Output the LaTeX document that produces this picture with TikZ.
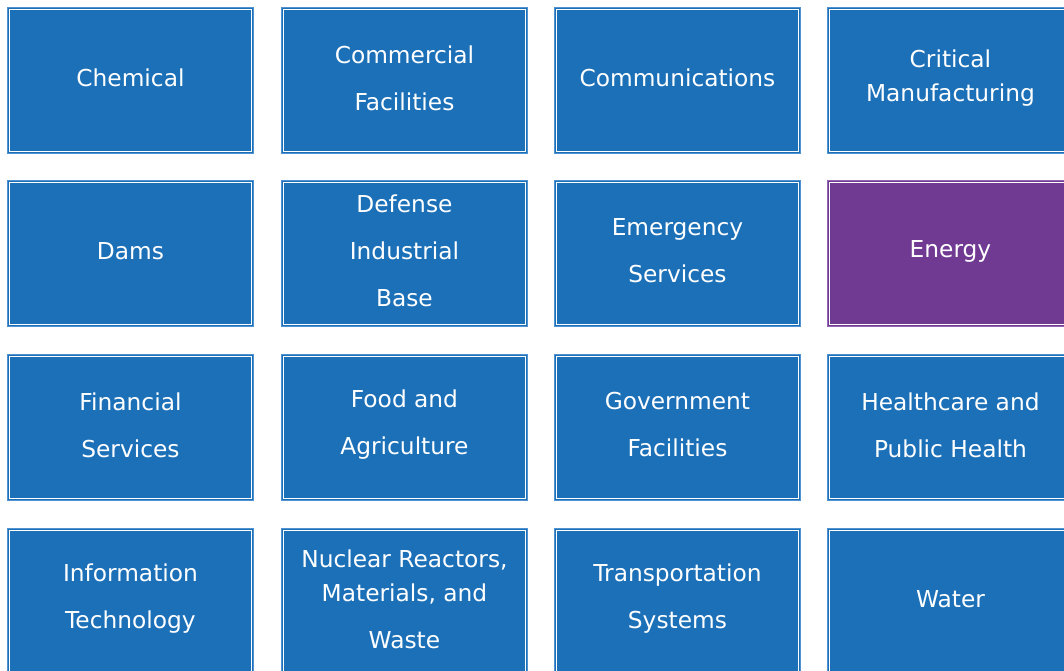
\documentclass[tikz,border=0pt]{standalone}
\usepackage{fontspec}
\setmainfont{DejaVu Sans}
\definecolor{boxblue}{RGB}{28,112,184}
\definecolor{edgeblue}{RGB}{80,145,210}
\definecolor{boxpurple}{RGB}{112,58,146}
\definecolor{edgepurple}{RGB}{150,100,180}
\tikzset{
  tile/.style={anchor=north west, minimum width=246pt, minimum height=146pt,
    inner sep=0pt, fill=boxblue, draw=edgeblue, line width=0.9pt,
    path picture={\draw[white, line width=1pt]
      ([shift={(2.2pt,-2.2pt)}]path picture bounding box.north west) rectangle
      ([shift={(-2.2pt,2.2pt)}]path picture bounding box.south east);}},
  tilepurple/.style={tile, fill=boxpurple, draw=edgepurple},
  tiletext/.style={text=white, align=center, inner sep=0pt,
    font={\fontsize{23.3}{47}\selectfont}}
}
\newcommand{\tiletxt}[2]{\node[tiletext] (#1-t) at ([yshift=2.5pt]#1.center) {#2};}
\begin{document}
\begin{tikzpicture}[x=1pt,y=-1pt]
\useasboundingbox (0,0) rectangle (1064,671);
\begin{scope}
\clip (0,0) rectangle (1064,671);
\node[tile] (chem) at (7,7) {};
\node[tile] (comm) at (281,7) {};
\node[tile] (comms) at (554,7) {};
\node[tile] (crit) at (827,7) {};
\node[tile] (dams) at (7,180) {};
\node[tile] (def) at (281,180) {};
\node[tile] (emer) at (554,180) {};
\node[tilepurple] (energy) at (827,180) {};
\node[tile] (fin) at (7,354) {};
\node[tile] (food) at (281,354) {};
\node[tile] (gov) at (554,354) {};
\node[tile] (health) at (827,354) {};
\node[tile] (it) at (7,528) {};
\node[tile] (nuc) at (281,528) {};
\node[tile] (trans) at (554,528) {};
\node[tile] (water) at (827,528) {};
\tiletxt{chem}{Chemical}
\tiletxt{comm}{Commercial\\Facilities}
\tiletxt{comms}{Communications}
\tiletxt{crit}{Critical\\[-13pt]Manufacturing}
\tiletxt{dams}{Dams}
\tiletxt{def}{Defense\\Industrial\\Base}
\tiletxt{emer}{Emergency\\Services}
\tiletxt{energy}{Energy}
\tiletxt{fin}{Financial\\Services}
\tiletxt{food}{Food and\\Agriculture}
\tiletxt{gov}{Government\\Facilities}
\tiletxt{health}{Healthcare and\\Public Health}
\tiletxt{it}{Information\\Technology}
\tiletxt{nuc}{Nuclear Reactors,\\[-13pt]Materials, and\\Waste}
\tiletxt{trans}{Transportation\\Systems}
\tiletxt{water}{Water}
\end{scope}
\end{tikzpicture}
\end{document}
